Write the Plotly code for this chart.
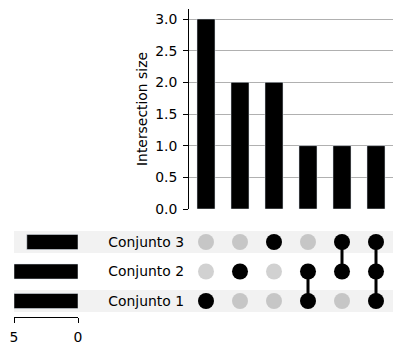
import plotly.graph_objects as go

set_names = ["Conjunto 1", "Conjunto 2", "Conjunto 3"]
# intersections (membership per set, in column order) and sizes
memberships = [
    [1, 0, 0],
    [0, 1, 0],
    [0, 0, 1],
    [1, 1, 0],
    [0, 1, 1],
    [1, 1, 1],
]
inter_sizes = [3, 2, 2, 1, 1, 1]
set_totals = [5, 5, 4]
ytick_vals = [0.0, 0.5, 1.0, 1.5, 2.0, 2.5, 3.0]
total_ticks = [5, 0]

W, H = 403, 351
FONT = "DejaVu Sans"
FS = 13.9

def px(x):
    return x / W

def py(y):
    return (H - y) / H

cols = list(range(len(inter_sizes)))
rows = list(range(len(set_names)))

fig = go.Figure()

# intersection bars
fig.add_trace(go.Bar(x=cols, y=inter_sizes, marker_color="black", width=0.53,
                     xaxis="x", yaxis="y", showlegend=False))

# matrix dots
for c, mem in zip(cols, memberships):
    xs = [c] * len(rows)
    colors = ["black" if m else "rgba(0,0,0,0.18)" for m in mem]
    fig.add_trace(go.Scatter(x=xs, y=rows, mode="markers",
                             marker=dict(size=16, color=colors, line=dict(width=0)),
                             xaxis="x2", yaxis="y2", showlegend=False))
    act = [r for r, m in zip(rows, mem) if m]
    if len(act) > 1:
        fig.add_trace(go.Scatter(x=[c, c], y=[min(act), max(act)], mode="lines",
                                 line=dict(color="black", width=3),
                                 xaxis="x2", yaxis="y2", showlegend=False))

# set totals
fig.add_trace(go.Bar(x=set_totals, y=rows, orientation="h", marker_color="black",
                     width=0.51, xaxis="x3", yaxis="y3", showlegend=False))

# shading rows
shapes = []
for r in rows:
    if r % 2 == 0:
        shapes.append(dict(type="rect", xref="paper", yref="y2", x0=px(14), x1=px(393),
                           y0=r - 0.373, y1=r + 0.373, fillcolor="rgba(0,0,0,0.05)",
                           line=dict(width=0), layer="below"))

xdom = [px(189), px(393)]
fig.update_layout(
    width=W, height=H,
    margin=dict(l=0, r=0, t=0, b=0, autoexpand=False),
    paper_bgcolor="white", plot_bgcolor="rgba(0,0,0,0)",
    font=dict(family=FONT, size=FS, color="black"),
    shapes=shapes,
    xaxis=dict(domain=xdom, range=[-0.5, 5.5], visible=False, anchor="y", automargin=False),
    yaxis=dict(domain=[py(209), py(9)], range=[0, 3.158], anchor="x", automargin=False,
               tickvals=ytick_vals, ticktext=[f"{v:.1f}" for v in ytick_vals],
               showline=True, linecolor="black", linewidth=1,
               ticks="outside", ticklen=5, tickcolor="black", ticklabelstandoff=3,
               showgrid=True, gridcolor="#b0b0b0", gridwidth=1, zeroline=False,
               title=dict(text="Intersection size", font=dict(size=FS), standoff=4)),
    xaxis2=dict(domain=xdom, range=[-0.5, 5.5], visible=False, anchor="y2", automargin=False),
    yaxis2=dict(domain=[py(315.75), py(227.25)], range=[-0.5, 2.5], anchor="x2",
                automargin=False,
                tickvals=rows, ticktext=set_names, ticks="", showgrid=False,
                zeroline=False, showline=False, ticklabelstandoff=4),
    xaxis3=dict(domain=[px(14), px(78)], range=[5, 0], anchor="y3", automargin=False,
                tickvals=total_ticks, ticktext=[str(t) for t in total_ticks],
                showline=True, linecolor="black", linewidth=1,
                ticks="outside", ticklen=5, tickcolor="black", ticklabelstandoff=2,
                showgrid=True, gridcolor="#b0b0b0", gridwidth=1, zeroline=False),
    yaxis3=dict(domain=[py(317), py(227.25)], range=[-0.542, 2.5], anchor="x3",
                visible=False, automargin=False),
)

fig.write_html("out.html")
